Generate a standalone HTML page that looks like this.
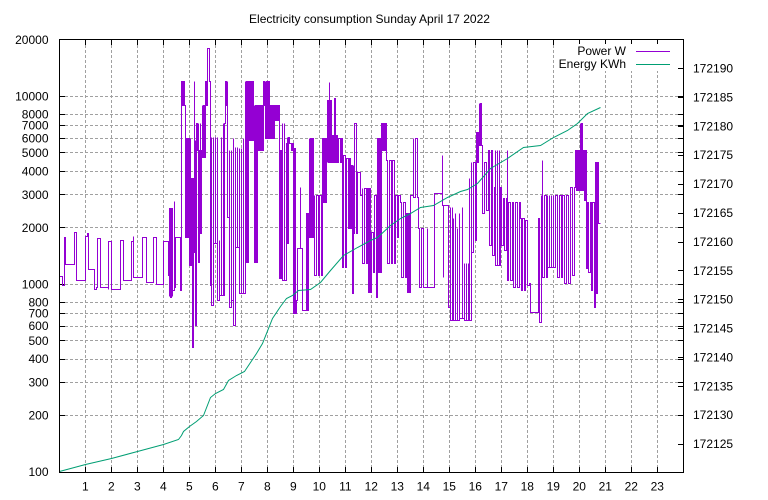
<!DOCTYPE html>
<html><head><meta charset="utf-8"><style>
html,body{margin:0;padding:0;background:#fff;}
svg{display:block;}
text{font-family:"Liberation Sans",sans-serif;font-size:12px;fill:#000;}
</style></head><body>
<svg width="768" height="500" viewBox="0 0 768 500" xmlns="http://www.w3.org/2000/svg">
<rect x="0" y="0" width="768" height="500" fill="#fff"/>
<!-- grid -->
<g stroke="#a0a0a0" stroke-width="1" stroke-dasharray="3,2" fill="none">
<path d="M85.5,40V472M111.5,40V472M137.5,40V472M163.5,40V472M189.5,40V472M215.5,40V472M241.5,40V472M267.5,40V472M293.5,40V472M319.5,40V472M345.5,40V472M371.5,40V472M397.5,40V472M423.5,40V472M449.5,40V472M475.5,40V472M501.5,40V472M527.5,40V472M553.5,40V472M579.5,40V472M605.5,40V472M631.5,40V472M657.5,40V472"/>
<path d="M60,96.5H683M60,114.5H683M60,125.5H683M60,138.5H683M60,152.5H683M60,171.5H683M60,194.5H683M60,227.5H683M60,284.5H683M60,302.5H683M60,313.5H683M60,326.5H683M60,340.5H683M60,359.5H683M60,382.5H683M60,415.5H683"/>
</g>
<!-- ticks -->
<g stroke="#000" stroke-width="1" fill="none">
<path d="M85.5,472V467M111.5,472V467M137.5,472V467M163.5,472V467M189.5,472V467M215.5,472V467M241.5,472V467M267.5,472V467M293.5,472V467M319.5,472V467M345.5,472V467M371.5,472V467M397.5,472V467M423.5,472V467M449.5,472V467M475.5,472V467M501.5,472V467M527.5,472V467M553.5,472V467M579.5,472V467M605.5,472V467M631.5,472V467M657.5,472V467"/>
<path d="M85.5,40V45M111.5,40V45M137.5,40V45M163.5,40V45M189.5,40V45M215.5,40V45M241.5,40V45M267.5,40V45M293.5,40V45M319.5,40V45M345.5,40V45M371.5,40V45M397.5,40V45M423.5,40V45M449.5,40V45M475.5,40V45M501.5,40V45M527.5,40V45M553.5,40V45M579.5,40V45M605.5,40V45M631.5,40V45M657.5,40V45"/>
<path d="M60,96.5H65M60,114.5H65M60,125.5H65M60,138.5H65M60,152.5H65M60,171.5H65M60,194.5H65M60,227.5H65M60,284.5H65M60,302.5H65M60,313.5H65M60,326.5H65M60,340.5H65M60,359.5H65M60,382.5H65M60,415.5H65"/>
<path d="M683,96.5H678M683,114.5H678M683,125.5H678M683,138.5H678M683,152.5H678M683,171.5H678M683,194.5H678M683,227.5H678M683,284.5H678M683,302.5H678M683,313.5H678M683,326.5H678M683,340.5H678M683,359.5H678M683,382.5H678M683,415.5H678"/>
<path d="M683,68.5H678M683,97.5H678M683,126.5H678M683,155.5H678M683,184.5H678M683,213.5H678M683,242.5H678M683,270.5H678M683,299.5H678M683,328.5H678M683,357.5H678M683,386.5H678M683,415.5H678M683,444.5H678"/>
</g>
<g transform="translate(0.5,0.5)">
<!-- power series -->
<path fill="none" stroke="#9400d3" stroke-width="1" d="M59,276 H62 V285 H64 V237 H65 V264 H74 V232 H76 V280 H85 V236 H87 V233 H88 V269 H94 V289 H96 V287 H97 V238 H100 V287 H108 V289 V241 H111 V289 H120 V240 H123 V280 H131 V241 H133 V236 V277 H142 V237 H146 V282 H153 V237 H156 V284 H163 V241 H168 V275 H169 V296 V208 H170 V297 H171 V208 H172 V296 V290 H174 V201 V287 H175 V237 H180 V290 H181
V81 H182 V105 H183 V81 H184 V105 H185 V133 V237 H186 V138 H187 V237 H188 V138 H189 V265 H190 V138 V265 H191 V178 H192 V347 H193 V178 H194 V81 V252 H195 V140 V325 H196 V123 H197 V150 H198 V123 V262 H199 V150 H200 V123 V233 H201 V150 H202 V105 V157 H203 V105 H204 V157 H205 V81 H206 V105 H207 V81 V48 H209 V81 H210 V105 V285 H211 V137 V305 H213 V137 V243 H215 V137 V243 H217 V137 V300 H219 V240 V295 H221 V137 V295 H223 V123 V295 H224 V123 H225 V81 H226 V105 H227 V81 V217 H229 V150 V307 H231 V150 V300 H233 V138 V325 H235 V147 V247 H237 V147 V247 H239 V148 V293 H241 V148 V293 H243 V138 V293 H245 V81 V262 H246 V81 H247 V262 H248 V81 H249 V140 H250 V81 H251 V140 H252 V81 H253 V140 H254 V105 V262 H255 V105 H256 V262 H257 V105 H258 V150 H259 V105 H260 V150 H261 V105 H262 V150 H263 V81 H264 V105 H265 V81 V138 H266 V81 H267 V138 H268 V81 H269 V138 H270 V105 H271 V138 H272 V105 H273 V138 H274 V105 H275 V120 H276 V105 H277 V120 H278 V105 H279 V150 V278 H280 V150 H281 V278 H282 V123 V280 H284 V123 V280 H286 V143 H287 V137 V243 H288 V137 H289 V143 H291 V150 H292 V143 H293 V313 H294 V148 H295 V313 H296 V300
H297 V248 H300 V187 V248 H302 V310 H306 V213 H307 V310 H308 V213 H309 V138 V237 H310 V138 H311 V237 H312 V138 H313 V237 H314 V195 V275 H316 V195 H318 V275 H319 V195 H321 V275 H322 V138 H323 V202 H324 V138 H325 V202 H326 V138 H327 V162 V100 H328 V162 H329 V82 V162 H330 V100 H331 V162 H332 V135 H333 V162 H334 V98 H335 V162 H336 V135 H337 V162 H338 V138 H340 V162 H341 V138 H342 V155 V267 H343 V155 H345 V267 H346 V158 H348 V228 H349 V158 H350 V228 H351 V165 H352 V293 H353 V165 V233 H354 V123 H356 V233 H357 V172 H360 V195 H362 V188 V263 H364 V188 H366 V263 H367 V188 H368 V292 H369 V188 H370 V292 H371 V232 H373 V272 H374 V195 H376 V297 H377 V138 H378 V272 H379 V138 H380 V272 H381 V123 H382 V150 H383 V123 H384 V150 H385 V123 H386 V160 H387 V263 H389 V160 H391 V263 H392 V160 H394 V263 H395 V195 H397 V237 H398 V195 H400 V202 H401 V277 H403 V202 H405 V277 H406 V213 H407 V292 H408 V213 H409 V292 H410 V195 H413 V138 V197 H415 V138 H417 V197 H418 V228 H419 V287 H421 V228 H423 V287 H427 V228 V287 H434 V193 H442 V155 V205 H443 V277 V205 H448 V207 V307 H450 V207 V320 H452 V207 V320 H453 V218 V320 H455 V213 V320 H457 V228 V320 H459 V213 V318 H462 V207 V318 H464 V263 V320 H466 V263 V320 H468 V263 V320 H469 V178 V320 H471 V162 V252 H473 V162 H475 V240 H476 V132 H477 V162 H478 V132 H479 V103 V145 H480 V103 H481 V145 H482 V162 V213 H484 V162 H486 V210 H488 V150 H489 V245 H491 V150 H492 V187 V255 H494 V187 H495 V150 V265 H497 V150 V265 H499 V150 V265 H500 V187 H501 V245 H503 V198 H504 V250 H506 V198 H507 V150 V280 H508 V202 H510 V280 H512 V202 H513 V287 H515 V202 H517 V287 H519 V202 H520 V218 H521 V290 H522 V218 H524 V290 H525 V220 H527 V285 H529 V283 H530 V312 H538 V218 H539 V322 H541 V195 V277 H542 V160 V277 H544 V195 H546 V277 H547 V195 V267 H549 V195 V267 H551 V195 V267 H553 V195 V267 H555 V195 H557 V277 H559 V195 H561 V277 H562 V195 H564 V283 H566 V195 H568 V283 H570 V187 H572 V275 H574 V187 H575 V150 H576 V190 H577 V150 H578 V190 H579 V150 H580 V123 V190 H581 V123 H582 V190 H583 V150 H584 V200 H585 V150 H586 V268 H587 V202 H588 V272 H590 V202 H591 V290 H592 V202 H594 V307 H595 V202 V162 H596 V293 H597 V162 H598 V223 H600"/>
<!-- energy series -->
<polyline fill="none" stroke="#009e73" stroke-width="1" points="59,471 85,464 111,458 137,451 163,444 178,439 181,435 183,431 189,426 196,421 203,415 210,397 215,393 223,389 228,380 236,375 244,371 256,353 262,343 272,318 280,306 286,298 292,295 298,290 310,289 320,282 330,270 343,255 357,247 370,240 377,237 390,225 400,218 410,213 420,207 433,205 447,197 460,191 467,189 477,183 490,168 507,158 523,147 540,145 553,137 567,130 577,123 587,113 600,107"/>
</g>
<!-- border -->
<rect x="59.5" y="39.5" width="624" height="433" fill="none" stroke="#000" stroke-width="1"/>
<!-- title -->
<text x="369.5" y="23" text-anchor="middle" textLength="241" lengthAdjust="spacingAndGlyphs">Electricity consumption Sunday April 17 2022</text>
<!-- left labels -->
<g text-anchor="end">
<text x="48.5" y="44">20000</text>
<text x="48.5" y="100.5">10000</text>
<text x="48.5" y="118.5">8000</text>
<text x="48.5" y="129.5">7000</text>
<text x="48.5" y="142.5">6000</text>
<text x="48.5" y="157">5000</text>
<text x="48.5" y="175.5">4000</text>
<text x="48.5" y="199">3000</text>
<text x="48.5" y="232">2000</text>
<text x="48.5" y="288.5">1000</text>
<text x="48.5" y="306.5">800</text>
<text x="48.5" y="317.5">700</text>
<text x="48.5" y="330">600</text>
<text x="48.5" y="345">500</text>
<text x="48.5" y="363">400</text>
<text x="48.5" y="386.5">300</text>
<text x="48.5" y="419.5">200</text>
<text x="48.5" y="476">100</text>
</g>
<!-- right labels -->
<g text-anchor="start">
<text x="693" y="72.5">172190</text>
<text x="693" y="101.5">172185</text>
<text x="693" y="130.5">172180</text>
<text x="693" y="159">172175</text>
<text x="693" y="188">172170</text>
<text x="693" y="217">172165</text>
<text x="693" y="246">172160</text>
<text x="693" y="275">172155</text>
<text x="693" y="303.5">172150</text>
<text x="693" y="332.5">172145</text>
<text x="693" y="361.5">172140</text>
<text x="693" y="390.5">172135</text>
<text x="693" y="419">172130</text>
<text x="693" y="448">172125</text>
</g>
<!-- x labels -->
<g text-anchor="middle">
<text x="85.3" y="490.5">1</text><text x="111.3" y="490.5">2</text><text x="137.3" y="490.5">3</text><text x="163.3" y="490.5">4</text><text x="189.3" y="490.5">5</text><text x="215.3" y="490.5">6</text><text x="241.3" y="490.5">7</text><text x="267.3" y="490.5">8</text><text x="293.3" y="490.5">9</text><text x="319.3" y="490.5">10</text><text x="345.3" y="490.5">11</text><text x="371.3" y="490.5">12</text><text x="397.3" y="490.5">13</text><text x="423.3" y="490.5">14</text><text x="449.3" y="490.5">15</text><text x="475.3" y="490.5">16</text><text x="501.3" y="490.5">17</text><text x="527.3" y="490.5">18</text><text x="553.3" y="490.5">19</text><text x="579.3" y="490.5">20</text><text x="605.3" y="490.5">21</text><text x="631.3" y="490.5">22</text><text x="657.3" y="490.5">23</text>
</g>
<!-- legend -->
<rect x="560" y="44" width="118" height="27" fill="#fff"/>
<text x="626" y="55" text-anchor="end">Power W</text>
<line x1="636" y1="51.5" x2="670" y2="51.5" stroke="#9400d3" stroke-width="1"/>
<text x="626" y="68" text-anchor="end">Energy KWh</text>
<line x1="636" y1="64.5" x2="670" y2="64.5" stroke="#009e73" stroke-width="1"/>
</svg>
</body></html>
